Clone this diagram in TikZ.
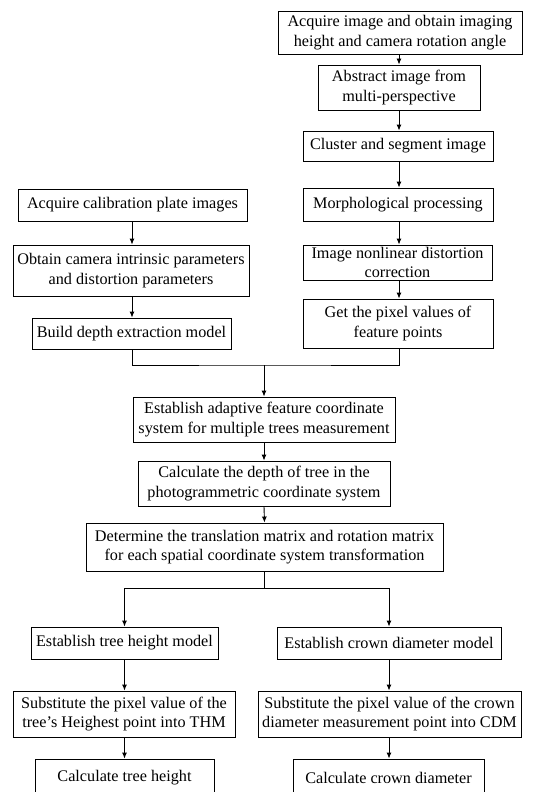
\documentclass[tikz,border=0pt]{standalone}
\usepackage{fontspec}
\setmainfont{Liberation Serif}
\usetikzlibrary{arrows.meta}
\begin{document}
\begin{tikzpicture}[x=1pt,y=1pt,
  box/.style={draw, line width=0.9pt, align=center, inner sep=0pt,
    font=\fontsize{16.2}{19.5}\selectfont},
  arr/.style={line width=0.9pt, -{Latex[length=6pt,width=5pt]}},
  ln/.style={line width=0.9pt}]
\clip (0,0) rectangle (535,-792);
\fill[white] (0,0) rectangle (535,-792);
% right column
\node[box, minimum width=244, minimum height=43] (a1) at (400,-32.5) {Acquire image and obtain imaging\\height and camera rotation angle};
\node[box, minimum width=162, minimum height=45] (a2) at (399,-87.5) {Abstract image from\\multi-perspective};
\node[box, minimum width=190, minimum height=30] (a3) at (398,-146) {Cluster and segment image};
\node[box, minimum width=190, minimum height=33] (a4) at (398,-204.5) {Morphological processing};
\node[box, minimum width=189, minimum height=35] (a5) at (397.5,-262.5) {Image nonlinear distortion\\correction};
\node[box, minimum width=190, minimum height=49] (a6) at (398,-323.5) {Get the pixel values of\\feature points};
% left column
\node[box, minimum width=229, minimum height=32] (l1) at (132.5,-205) {Acquire calibration plate images};
\node[box, minimum width=236, minimum height=51] (l2) at (131,-270.5) {Obtain camera intrinsic parameters\\and distortion parameters};
\node[box, minimum width=199, minimum height=31] (l3) at (131.5,-333.5) {Build depth extraction model};
% middle
\node[box, minimum width=262, minimum height=45] (m1) at (264,-419.5) {Establish adaptive feature coordinate\\system for multiple trees measurement};
\node[box, minimum width=252, minimum height=45] (m2) at (264,-483.5) {Calculate the depth of tree in the\\photogrammetric coordinate system};
\node[box, minimum width=357, minimum height=48] (m3) at (264.5,-547) {Determine the translation matrix and rotation matrix\\for each spatial coordinate system transformation};
% bottom branches
\node[box, minimum width=187, minimum height=32] (b1) at (124.5,-643) {Establish tree height model};
\node[box, minimum width=224, minimum height=32] (c1) at (389,-643) {Establish crown diameter model};
\node[box, minimum width=222, minimum height=46] (b2) at (124,-714) {Substitute the pixel value of the\\tree’s Heighest point into THM};
\node[box, minimum width=263, minimum height=46] (c2) at (389.5,-714) {Substitute the pixel value of the crown\\diameter measurement point into CDM};
\node[box, minimum width=179, minimum height=38] (b3) at (124.5,-778) {Calculate tree height};
\node[box, minimum width=191, minimum height=38] (c3) at (388.5,-778) {Calculate crown diameter};
% connectors right column
\coordinate (rx) at (399,0);
\draw[arr] (a1.south -| rx) -- (a2.north -| rx);
\draw[arr] (a2.south -| rx) -- (a3.north -| rx);
\draw[arr] (a3.south -| rx) -- (a4.north -| rx);
\draw[arr] (a4.south -| rx) -- (a5.north -| rx);
\draw[arr] (a5.south -| rx) -- (a6.north -| rx);
% left column
\coordinate (lx) at (132,0);
\draw[arr] (l1.south -| lx) -- (l2.north -| lx);
\draw[arr] (l2.south -| lx) -- (l3.north -| lx);
% merge
\coordinate (j) at (264,-365);
\draw[ln] (l3.south -| lx) |- (j) -| (a6.south -| rx);
\draw[arr] (j) -- (m1.north);
\draw[arr] (m1.south) -- (m2.north);
\draw[arr] (m2.south) -- (m3.north);
% split
\coordinate (s) at (264.5,-588);
\draw[ln] (m3.south) -- (s);
\draw[arr] (s) -| (b1.north);
\draw[arr] (s) -| (c1.north);
\draw[arr] (b1.south) -- (b1.south |- b2.north);
\draw[arr] (b2.south -| b1.south) -- (b1.south |- b3.north);
\draw[arr] (c1.south) -- (c1.south |- c2.north);
\draw[arr] (c2.south -| c1.south) -- (c1.south |- c3.north);
\end{tikzpicture}
\end{document}
